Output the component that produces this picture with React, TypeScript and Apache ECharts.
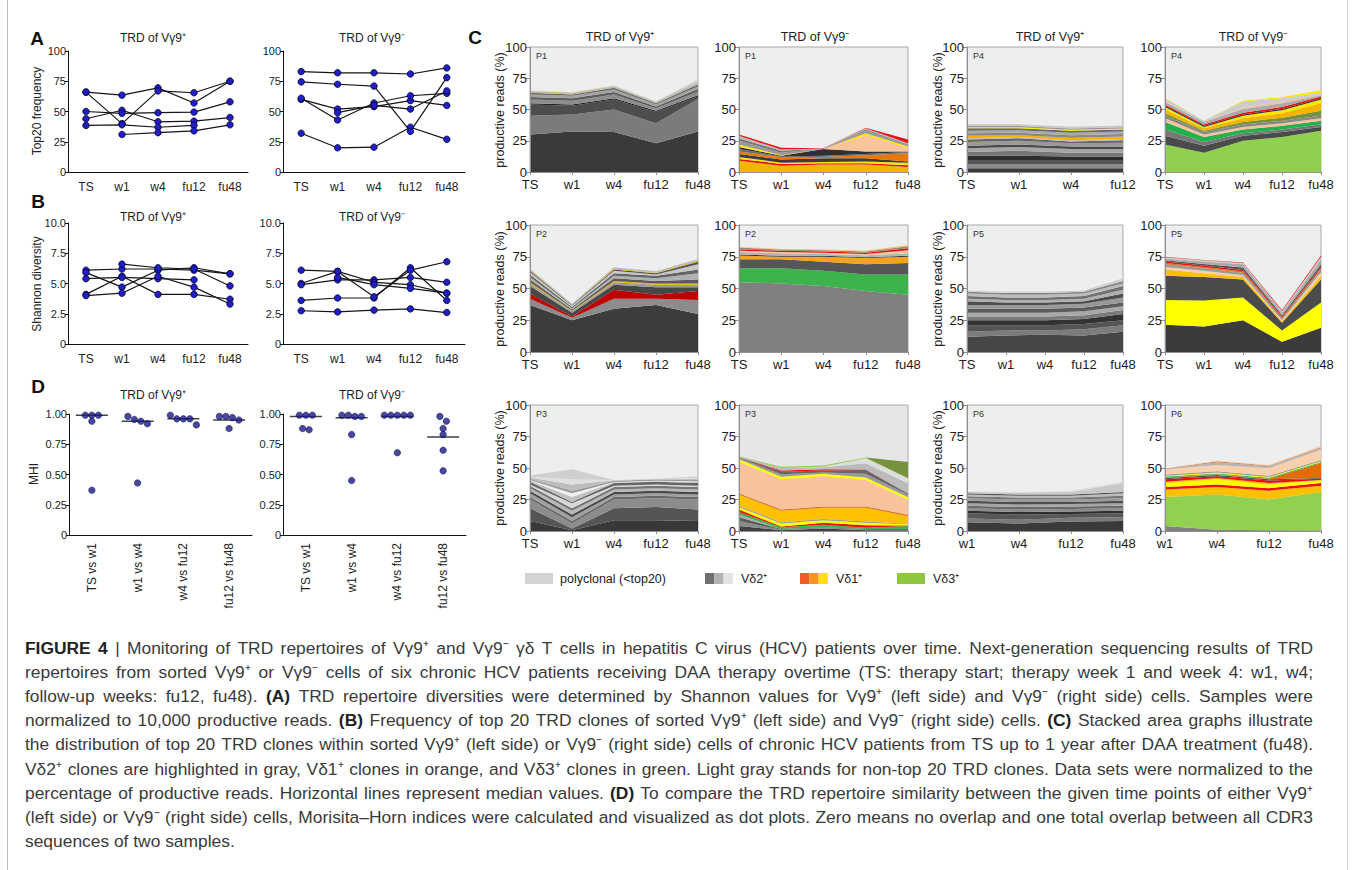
import React, { useEffect, useRef } from "react";
import * as echarts from "echarts";

// ---------------- DATA ----------------
const TIMEPOINTS = ["TS", "w1", "w4", "fu12", "fu48"];
const TIMEPOINTS_P4POS = ["TS", "w1", "w4", "fu12"];
const TIMEPOINTS_P6 = ["w1", "w4", "fu12", "fu48"];
const PATIENTS = ["P1", "P2", "P3", "P4", "P5", "P6"];

// (A) Top20 frequency, one row per patient P1..P6
const TOP20_POS: (number | null)[][] = [
  [66, 63.5, 69.5, 57, 75],
  [66, 40, 67, 65.5, 75],
  [44, 51, 41.5, 42, 45],
  [38.5, 39, 37, 38.5, null],
  [50, 48.5, 49, 49.5, 58],
  [null, 31, 32.5, 34, 39],
];
const TOP20_NEG: (number | null)[][] = [
  [32, 20, 20.5, 37, 27],
  [83, 82, 82, 81, 86],
  [60, 52, 54, 59, 55],
  [61, 43, 57, 63, 65],
  [74.5, 72.5, 71, 33.6, 78],
  [null, 49, 55, 52, 67],
];

// (B) Shannon diversity
const SHANNON_POS: (number | null)[][] = [
  [6.1, 6.2, 6.2, 6.1, 5.8],
  [5.9, 4.7, 6.1, 6.3, 5.8],
  [4.1, 5.6, 4.1, 4.1, 3.7],
  [5.4, 5.5, 5.4, 5.3, null],
  [4.0, 4.2, 5.6, 4.7, 3.3],
  [null, 6.6, 6.3, 6.2, 4.8],
];
const SHANNON_NEG: (number | null)[][] = [
  [2.75, 2.65, 2.8, 2.9, 2.6],
  [3.6, 3.8, 3.8, 6.3, 3.6],
  [5.0, 6.0, 3.9, 6.1, 6.8],
  [4.9, 5.3, 5.3, 5.5, 5.1],
  [6.1, 6.0, 5.1, 4.9, 4.2],
  [null, 5.5, 4.9, 4.6, 4.2],
];

// (D) Morisita-Horn indices
const MHI_CATS = ["TS vs w1", "w1 vs w4", "w4 vs fu12", "fu12 vs fu48"];
const MHI_POS: number[][] = [
  [0.99, 0.99, 0.99, 0.94, 0.37],
  [0.98, 0.955, 0.94, 0.92, 0.43],
  [0.99, 0.96, 0.96, 0.96, 0.91],
  [0.98, 0.97, 0.98, 0.95, 0.88],
];
const MHI_POS_MEDIAN = [0.99, 0.94, 0.96, 0.95];
const MHI_NEG: number[][] = [
  [0.99, 0.99, 0.99, 0.88, 0.87],
  [0.99, 0.98, 0.98, 0.99, 0.83, 0.45],
  [0.99, 0.99, 0.99, 0.99, 0.99, 0.68],
  [0.98, 0.94, 0.88, 0.83, 0.7, 0.53],
];
const MHI_NEG_MEDIAN = [0.98, 0.97, 0.98, 0.81];

// (C) stacked clone layers (% productive reads), bottom to top
const C_P1_POS = [
  [30, 32.5, 32, 23, 32.5],
  [15, 13.5, 18, 16, 26],
  [9, 7, 8, 9, 2],
  [1, 1, 1, 1, 1],
  [3, 3, 3, 2, 3],
  [2, 2, 2, 1.5, 2],
  [2, 2, 2, 1.5, 2],
  [1.5, 1, 1.5, 1, 1.5],
  [1, 1, 1, 1, 2],
  [0.3, 0.4, 0.2, 0.2, 0.2],
  [0.5, 0.5, 0.5, 0.5, 1.5],
  [0, 0, 0, 0, 1],
];
const C_P1_NEG = [
  [9, 5, 6, 6, 4],
  [1.5, 1.5, 1, 1, 1.5],
  [1.5, 1, 1, 1.5, 2],
  [2.5, 2.5, 3, 2.5, 1],
  [2, 2, 1, 2.5, 6.5],
  [2, 0.5, 1, 1, 1],
  [1.5, 0.5, 5.5, 2, 0.5],
  [0.5, 0, 0, 13, 3],
  [1.5, 0.5, 0, 1.5, 1],
  [3, 2, 0.3, 2, 1.5],
  [2, 1.5, 0, 1, 0.5],
  [2, 1, 0, 1, 0.5],
  [1, 1.5, 0.3, 0.5, 3],
];
const C_P4_POS = [
  [3, 3, 3, 3],
  [3, 3, 3, 3],
  [3, 3, 3, 3],
  [4, 4, 3.5, 3.5],
  [3, 4, 3, 3],
  [3, 3, 3, 3],
  [2, 2, 2, 2],
  [3, 3, 2.5, 3],
  [2, 2, 1.5, 2],
  [1, 1, 1, 1],
  [2, 1.5, 2, 2],
  [2, 2, 2, 2],
  [2, 2, 2, 2],
  [2, 1.5, 1.5, 1.5],
  [0.8, 0.8, 0.8, 0.8],
  [1, 1, 1, 1],
  [1.5, 1.5, 1.5, 1.5],
];
const C_P4_NEG = [
  [22, 15.5, 25, 28, 33],
  [7, 5.5, 4, 4, 3],
  [5, 3, 2, 2, 2],
  [6, 4, 3, 3, 3],
  [3, 2, 2, 2, 2],
  [2, 2, 2, 2, 2],
  [2, 1, 2, 2.5, 4],
  [3, 2, 3, 3.5, 6],
  [2, 1, 2, 2.5, 3],
  [1, 1, 1, 1, 1],
  [1, 1, 1.5, 1.5, 1.5],
  [2, 2, 3, 3, 1],
  [1, 0, 1, 1.5, 1],
  [2, 1, 5, 2.5, 1],
  [0.5, 0, 0.5, 1, 2],
];
const C_P2_POS = [
  [37, 25, 34, 37, 30],
  [5, 2, 8, 5, 11],
  [4, 1, 7, 3, 7],
  [6, 3, 4, 6, 3],
  [2, 1, 2, 2, 2],
  [1, 0.5, 1, 1, 1],
  [2, 1, 2, 2, 3],
  [2, 1, 2, 2, 5],
  [2, 1, 2, 2, 3],
  [2, 1, 2, 1, 4],
  [1, 0.5, 1, 1, 2],
  [0.5, 0, 0.8, 0.5, 0.8],
  [1, 1, 1, 1, 1.5],
];
const C_P2_NEG = [
  [55, 54, 52, 48, 45],
  [11, 12, 12, 13, 16],
  [7, 7, 7, 8, 9],
  [3, 2, 4, 5, 5],
  [0.7, 0.7, 0.7, 0.7, 0.7],
  [2, 2, 1.5, 1.5, 2],
  [1, 1, 1, 1, 2.5],
  [1, 1, 1, 1, 1.5],
  [1.5, 1, 1, 1, 1.5],
  [0.5, 0.5, 0.5, 0.5, 1],
];
const C_P5_POS = [
  [12, 13, 13.5, 13, 16],
  [4, 4, 3.5, 5, 5],
  [5, 4, 4, 4, 4],
  [4, 4, 4, 4, 5],
  [3, 3, 3, 3, 3],
  [3, 3, 3, 3, 3],
  [3, 3, 3, 3, 3],
  [3, 3, 3, 3, 4],
  [3, 2, 2, 2, 3],
  [2, 2, 2, 2, 3],
  [2, 2, 2, 2, 3],
  [2, 2, 2, 2, 2],
  [1.5, 1.5, 1.5, 1.5, 2],
  [1, 1, 1, 1, 2],
];
const C_P5_NEG = [
  [21.5, 20, 25, 8, 19],
  [19.5, 20.5, 18, 9, 20],
  [19, 18.5, 14, 6, 18],
  [5, 3, 2, 1, 3],
  [2, 2, 1.5, 1, 3],
  [2, 2, 2, 1.5, 2],
  [1, 1, 1, 0.5, 1],
  [1.2, 1.2, 1, 1, 1],
  [1, 1, 2, 1, 2],
  [1.5, 2, 2.5, 2, 4],
  [1, 1, 1, 1, 2],
  [0.3, 0.3, 0.5, 0.8, 1],
];
const C_P3_POS = [
  [8, 0.5, 8.5, 8.5, 8],
  [10, 1.5, 9.5, 10.5, 9],
  [7, 4, 7, 7, 8],
  [2, 2, 2, 2, 2],
  [3, 3, 2, 2, 2],
  [2, 2, 2, 2, 2],
  [2, 3, 2, 2, 2],
  [2, 2, 2, 2, 2],
  [1, 4, 1, 1, 1],
  [2, 1, 2, 2, 2],
  [1, 4, 0.5, 0.5, 1],
  [0.5, 3, 0.3, 0.3, 0.5],
  [1, 2, 1, 1, 1],
  [1, 5, 0.5, 0.5, 1],
  [0.5, 4, 0.2, 0.2, 0.5],
  [1, 8, 0, 0, 1.5],
];
const C_P3_NEG = [
  [4, 0.5, 2, 0.5, 0.5],
  [4, 0.5, 0.5, 0.5, 0.5],
  [3, 0.5, 0.5, 0.5, 0.5],
  [2, 0, 0, 0, 0],
  [2, 1.5, 2, 1, 2.5],
  [2, 0.5, 1.5, 2, 0.3],
  [2, 2.5, 2, 2, 1],
  [1, 1, 1, 1, 0.5],
  [9, 9, 9, 11, 6],
  [1, 1, 1, 1, 1],
  [25, 24, 24, 21, 12],
  [2, 2, 2, 2, 2],
  [1, 2, 1, 3, 2],
  [0.5, 2, 1.5, 3, 1],
  [0, 1, 1, 0.3, 0],
  [0.5, 2, 1.5, 5, 8],
  [0, 0, 0.5, 4, 4],
  [0.3, 1, 1, 0.5, 0],
  [0, 0, 0, 0, 13],
];
const C_P6_POS = [
  [7, 6, 7.5, 8],
  [3, 3, 3, 3],
  [4, 4, 3, 3],
  [2, 2, 2, 2],
  [2, 2, 2, 2],
  [2, 2, 2, 2],
  [2, 2, 2, 2],
  [2, 2, 1.5, 2],
  [2, 2, 2, 2],
  [1.5, 1.5, 1.5, 2],
  [1.5, 1.5, 1.5, 2],
  [1, 1, 1, 1],
  [1, 1.5, 2, 7],
  [0.5, 0.5, 1, 1],
];
const C_P6_NEG = [
  [4, 1, 0.5, 0.3],
  [23, 28, 24.5, 30.7],
  [6, 6, 7, 5],
  [2, 2, 2, 2],
  [3, 4, 3, 2],
  [1, 1, 1, 0.5],
  [2, 1.5, 2, 1],
  [1, 1, 1, 0.5],
  [0.5, 0.5, 0.5, 12],
  [0.7, 0.7, 0.7, 0.7],
  [0.7, 0.7, 0.7, 0.7],
  [1, 1, 1, 1],
  [4, 5, 6, 8],
  [0.5, 2, 1.5, 1.5],
  [0.3, 1, 0.5, 0.7],
  [0, 0.5, 0.5, 1],
];

// layer colours (styles kept apart from values)
const COL_P1_POS = ["#3a3a3a", "#7b7b7b", "#4d4d4d", "#222222", "#8e8e8e", "#5c5c5c", "#a3a3a3", "#6b6b6b", "#b8b8b8", "#e8a200", "#cdcdcd", "#dedede"];
const COL_P1_NEG = ["#f5b400", "#e8140a", "#ffe600", "#3c3c3c", "#e8780a", "#6e6e6e", "#303030", "#f8c49c", "#ffe600", "#9a9a9a", "#777777", "#bbbbbb", "#e81010"];
const COL_P4_POS = ["#3a3a3a", "#8a8a8a", "#555555", "#2e2e2e", "#777777", "#a5a5a5", "#4a4a4a", "#999999", "#666666", "#bbbbbb", "#f5b000", "#888888", "#aaaaaa", "#6a6a6a", "#ffee00", "#999999", "#c8c8c8"];
const COL_P4_NEG = ["#8fd14f", "#4a4a4a", "#777777", "#22b14c", "#f8c39c", "#888888", "#76923c", "#f5b400", "#ffe600", "#333333", "#e81010", "#aaaaaa", "#f0c0a0", "#cccccc", "#ffe600"];
const COL_P2_POS = ["#3c3c3c", "#8c8c8c", "#c00000", "#474747", "#9a9a9a", "#e8b000", "#5a5a5a", "#b0b0b0", "#666666", "#c8c8c8", "#555555", "#e8b000", "#bbbbbb"];
const COL_P2_NEG = ["#808080", "#3cb44b", "#565656", "#f7a21b", "#333333", "#b4b4b4", "#f8c7a0", "#e81010", "#9a8a7a", "#f0c070"];
const COL_P5_POS = ["#464646", "#7c7c7c", "#555555", "#333333", "#7a7a7a", "#a8a8a8", "#5c5c5c", "#999999", "#4e4e4e", "#b0b0b0", "#707070", "#bdbdbd", "#8a8a8a", "#cfcfcf"];
const COL_P5_NEG = ["#3b3b3b", "#ffff00", "#4b4b4b", "#ffc000", "#f8cfae", "#9a9a9a", "#e07020", "#e81010", "#555555", "#aaaaaa", "#cccccc", "#e81010"];
const COL_P3_POS = ["#383838", "#555555", "#8c8c8c", "#6a6a6a", "#a0a0a0", "#4a4a4a", "#b8b8b8", "#777777", "#d8d8d8", "#666666", "#c0c0c0", "#f0f0f0", "#9a9a9a", "#bdbdbd", "#e0e0e0", "#cfcfcf"];
const COL_P3_NEG = ["#404040", "#8a8a8a", "#5a5a5a", "#aaaaaa", "#3cb44b", "#e81010", "#ffff00", "#9a9a9a", "#ffc000", "#e07020", "#f8c39c", "#ffff00", "#999999", "#666666", "#e81010", "#bbbbbb", "#dddddd", "#92d050", "#76923c"];
const COL_P6_POS = ["#3a3a3a", "#7a7a7a", "#585858", "#2e2e2e", "#8c8c8c", "#6a6a6a", "#a5a5a5", "#4e4e4e", "#9a9a9a", "#777777", "#bbbbbb", "#555555", "#c8c8c8", "#dddddd"];
const COL_P6_NEG = ["#7f7f7f", "#92d050", "#ffc000", "#ee1111", "#ffff00", "#ffc000", "#e81010", "#555555", "#e36c09", "#3cb44b", "#ffff00", "#999999", "#f9cfae", "#b5b5b5", "#e08a4a", "#f4d0c0"];

const LEGEND_LABELS = ["polyclonal (<top20)", "Vδ2⁺", "Vδ1⁺", "Vδ3⁺"];
const TITLE_POS = "TRD of Vγ9⁺";
const TITLE_NEG = "TRD of Vγ9⁻";

const CAPTION_LINES = [
  "{b|FIGURE 4} | Monitoring of TRD repertoires of Vγ9⁺ and Vγ9⁻ γδ T cells in hepatitis C virus (HCV) patients over time. Next-generation sequencing results of TRD",
  "repertoires from sorted Vγ9⁺ or Vγ9⁻ cells of six chronic HCV patients receiving DAA therapy overtime (TS: therapy start; therapy week 1 and week 4: w1, w4;",
  "follow-up weeks: fu12, fu48). {b|(A)} TRD repertoire diversities were determined by Shannon values for Vγ9⁺ (left side) and Vγ9⁻ (right side) cells. Samples were",
  "normalized to 10,000 productive reads. {b|(B)} Frequency of top 20 TRD clones of sorted Vγ9⁺ (left side) and Vγ9⁻ (right side) cells. {b|(C)} Stacked area graphs illustrate",
  "the distribution of top 20 TRD clones within sorted Vγ9⁺ (left side) or Vγ9⁻ (right side) cells of chronic HCV patients from TS up to 1 year after DAA treatment (fu48).",
  "Vδ2⁺ clones are highlighted in gray, Vδ1⁺ clones in orange, and Vδ3⁺ clones in green. Light gray stands for non-top 20 TRD clones. Data sets were normalized to the",
  "percentage of productive reads. Horizontal lines represent median values. {b|(D)} To compare the TRD repertoire similarity between the given time points of either Vγ9⁺",
  "(left side) or Vγ9⁻ (right side) cells, Morisita–Horn indices were calculated and visualized as dot plots. Zero means no overlap and one total overlap between all CDR3",
  "sequences of two samples.",
];

// ---------------- BUILD ----------------
const FONT = '"Liberation Sans", Arial, Helvetica, sans-serif';
const CAPTION_SIZE = 17.4;

type Rect = { left: number; top: number; width: number; height: number };

function swarmOffsets(vals: number[], thr: number, step: number): number[] {
  const idx = vals.map((_, i) => i).sort((a, b) => vals[b] - vals[a]);
  const offs = new Array(vals.length).fill(0);
  let start = 0;
  for (let k = 1; k <= idx.length; k++) {
    if (k === idx.length || vals[idx[k - 1]] - vals[idx[k]] >= thr) {
      const n = k - start;
      for (let j = 0; j < n; j++) offs[idx[start + j]] = (j - (n - 1) / 2) * step;
      start = k;
    }
  }
  return offs;
}

let measureCtx: CanvasRenderingContext2D | null = null;
function measureWord(word: string, bold: boolean, size: number): number {
  if (!measureCtx) measureCtx = document.createElement("canvas").getContext("2d");
  if (!measureCtx) return word.length * size * 0.5;
  measureCtx.font = `${bold ? "bold " : ""}${size}px ${FONT}`;
  return measureCtx.measureText(word).width;
}

function splitWords(line: string): { w: string; bold: boolean }[] {
  const out: { w: string; bold: boolean }[] = [];
  const re = /\{b\|([^}]*)\}/g;
  let last = 0;
  let m: RegExpExecArray | null;
  const push = (s: string, bold: boolean) =>
    s.split(" ").filter((x) => x.length > 0).forEach((w) => out.push({ w, bold }));
  while ((m = re.exec(line))) {
    push(line.slice(last, m.index), false);
    push(m[1], true);
    last = m.index + m[0].length;
  }
  push(line.slice(last), false);
  return out;
}

function buildOption() {
  const grid: any[] = [];
  const xAxis: any[] = [];
  const yAxis: any[] = [];
  const series: any[] = [];
  const gfx: any[] = [];

  const text = (x: number, y: number, t: string, size: number, extra: any = {}, elExtra: any = {}) =>
    gfx.push({
      type: "text",
      x,
      y,
      silent: true,
      ...elExtra,
      style: {
        text: t,
        fontSize: size,
        fontFamily: FONT,
        fill: "#222",
        textAlign: "center",
        textVerticalAlign: "middle",
        ...extra,
      },
    });

  const blackAxis = { lineStyle: { color: "#111", width: 1 } };

  const addLinePanel = (r: Rect, rows: (number | null)[][], max: number, fmt: (v: number) => string) => {
    const gi = grid.length;
    grid.push({ ...r });
    xAxis.push({
      gridIndex: gi,
      type: "category",
      data: TIMEPOINTS,
      boundaryGap: true,
      axisLine: blackAxis,
      axisTick: { show: false },
      axisLabel: { fontSize: 12, color: "#222", fontFamily: FONT, margin: 9 },
    });
    yAxis.push({
      gridIndex: gi,
      type: "value",
      min: 0,
      max,
      interval: max / 4,
      axisLine: { show: true, ...blackAxis },
      axisTick: { show: true, length: 3, lineStyle: { color: "#111" } },
      splitLine: { show: false },
      axisLabel: { fontSize: 11, color: "#222", fontFamily: FONT, margin: 2, formatter: fmt },
    });
    rows.forEach((d, k) =>
      series.push({
        name: PATIENTS[k],
        type: "line",
        xAxisIndex: gi,
        yAxisIndex: gi,
        data: d,
        symbol: "circle",
        symbolSize: 6.5,
        lineStyle: { color: "#151515", width: 1.2 },
        itemStyle: { color: "#1f1fc4", borderColor: "#000033", borderWidth: 0.8 },
        silent: true,
      })
    );
  };

  const addDotPanel = (r: Rect, groups: number[][], medians: number[]) => {
    const gi = grid.length;
    grid.push({ ...r });
    xAxis.push({
      gridIndex: gi,
      type: "category",
      data: MHI_CATS,
      boundaryGap: true,
      axisLine: blackAxis,
      axisTick: { show: false },
      axisLabel: { fontSize: 12, color: "#222", fontFamily: FONT, rotate: 90, margin: 8, interval: 0 },
    });
    yAxis.push({
      gridIndex: gi,
      type: "value",
      min: 0,
      max: 1,
      interval: 0.25,
      axisLine: { show: true, ...blackAxis },
      axisTick: { show: true, length: 3, lineStyle: { color: "#111" } },
      splitLine: { show: false },
      axisLabel: { fontSize: 11, color: "#222", fontFamily: FONT, margin: 2, formatter: (v: number) => (v === 0 ? "0" : v.toFixed(2)) },
    });
    const pts: any[] = [];
    groups.forEach((vals, ci) => {
      const offs = swarmOffsets(vals, 0.05, 6.5);
      vals.forEach((v, k) => pts.push({ value: [ci, v], symbolOffset: [offs[k], 0] }));
    });
    series.push({
      type: "scatter",
      xAxisIndex: gi,
      yAxisIndex: gi,
      data: medians.map((m, ci) => [ci, m]),
      symbol: "rect",
      symbolSize: [32, 1.5],
      itemStyle: { color: "#111" },
      silent: true,
      z: 2,
    });
    series.push({
      type: "scatter",
      xAxisIndex: gi,
      yAxisIndex: gi,
      data: pts,
      symbol: "circle",
      symbolSize: 6.5,
      itemStyle: { color: "#1a1a8c", borderColor: "#000033", borderWidth: 0.6 },
      silent: true,
      z: 3,
    });
  };

  const grayAxis = { lineStyle: { color: "#8f8f8f", width: 1 } };
  const addStackPanel = (r: Rect, cats: string[], layers: number[][], colors: string[], tag: string, bg: string) => {
    const gi = grid.length;
    grid.push({ ...r, show: true, backgroundColor: bg, borderColor: "#a8a8a8", borderWidth: 1 });
    xAxis.push({
      gridIndex: gi,
      type: "category",
      data: cats,
      boundaryGap: false,
      axisLine: grayAxis,
      axisTick: { show: true, length: 3, lineStyle: { color: "#8f8f8f" } },
      axisLabel: { fontSize: 13, color: "#1a1a1a", fontFamily: FONT, margin: 6 },
      z: 5,
    });
    yAxis.push({
      gridIndex: gi,
      type: "value",
      min: 0,
      max: 100,
      interval: 25,
      axisLine: { show: true, ...grayAxis },
      axisTick: { show: true, length: 4, lineStyle: { color: "#8f8f8f" } },
      splitLine: { show: false },
      axisLabel: { fontSize: 13, color: "#1a1a1a", fontFamily: FONT, margin: 3, verticalAlign: "middle" },
      z: 5,
    });
    layers.forEach((vals, k) =>
      series.push({
        type: "line",
        xAxisIndex: gi,
        yAxisIndex: gi,
        stack: "stack" + gi,
        data: vals,
        symbol: "none",
        showSymbol: false,
        lineStyle: { width: 0 },
        itemStyle: { color: colors[k] },
        areaStyle: { color: colors[k], opacity: 1 },
        silent: true,
      })
    );
    text(r.left + 6, r.top + 9, tag, 9, { textAlign: "left", fill: "#333" });
  };

  // ----- layout -----
  const colA = [
    { left: 68, width: 180 },
    { left: 283, width: 182 },
  ];
  addLinePanel({ ...colA[0], top: 51, height: 121 }, TOP20_POS, 100, (v) => String(v));
  addLinePanel({ ...colA[1], top: 51, height: 121 }, TOP20_NEG, 100, (v) => String(v));
  addLinePanel({ ...colA[0], top: 223, height: 121 }, SHANNON_POS, 10, (v) => (v === 0 ? "0" : v.toFixed(1)));
  addLinePanel({ ...colA[1], top: 223, height: 121 }, SHANNON_NEG, 10, (v) => (v === 0 ? "0" : v.toFixed(1)));
  addDotPanel({ left: 69, width: 183, top: 414, height: 121 }, MHI_POS, MHI_POS_MEDIAN);
  addDotPanel({ left: 283, width: 183, top: 414, height: 121 }, MHI_NEG, MHI_NEG_MEDIAN);

  const cCols = [
    { left: 530, width: 168 },
    { left: 739, width: 169 },
    { left: 967, width: 156 },
    { left: 1165, width: 156 },
  ];
  const cRows = [
    { top: 47, height: 125 },
    { top: 225, height: 127 },
    { top: 405, height: 126 },
  ];
  const BG = "#edefee";
  addStackPanel({ ...cCols[0], ...cRows[0] }, TIMEPOINTS, C_P1_POS, COL_P1_POS, "P1", BG);
  addStackPanel({ ...cCols[1], ...cRows[0] }, TIMEPOINTS, C_P1_NEG, COL_P1_NEG, "P1", BG);
  addStackPanel({ ...cCols[2], ...cRows[0] }, TIMEPOINTS_P4POS, C_P4_POS, COL_P4_POS, "P4", BG);
  addStackPanel({ ...cCols[3], ...cRows[0] }, TIMEPOINTS, C_P4_NEG, COL_P4_NEG, "P4", BG);
  addStackPanel({ ...cCols[0], ...cRows[1] }, TIMEPOINTS, C_P2_POS, COL_P2_POS, "P2", BG);
  addStackPanel({ ...cCols[1], ...cRows[1] }, TIMEPOINTS, C_P2_NEG, COL_P2_NEG, "P2", BG);
  addStackPanel({ ...cCols[2], ...cRows[1] }, TIMEPOINTS, C_P5_POS, COL_P5_POS, "P5", BG);
  addStackPanel({ ...cCols[3], ...cRows[1] }, TIMEPOINTS, C_P5_NEG, COL_P5_NEG, "P5", BG);
  addStackPanel({ ...cCols[0], ...cRows[2] }, TIMEPOINTS, C_P3_POS, COL_P3_POS, "P3", BG);
  addStackPanel({ ...cCols[1], ...cRows[2] }, TIMEPOINTS, C_P3_NEG, COL_P3_NEG, "P3", "#e6e6e6");
  addStackPanel({ ...cCols[2], ...cRows[2] }, TIMEPOINTS_P6, C_P6_POS, COL_P6_POS, "P6", BG);
  addStackPanel({ ...cCols[3], ...cRows[2] }, TIMEPOINTS_P6, C_P6_NEG, COL_P6_NEG, "P6", BG);

  // titles
  [38, 217, 395].forEach((y) => {
    text(153, y, TITLE_POS, 12);
    text(372, y, TITLE_NEG, 12);
  });
  text(620, 37, TITLE_POS, 12.5);
  text(815, 37, TITLE_NEG, 12.5);
  text(1050, 37, TITLE_POS, 12.5);
  text(1253, 37, TITLE_NEG, 12.5);

  // panel letters
  const bold = { fontWeight: "bold", fill: "#111" };
  text(37, 38, "A", 19, bold);
  text(38, 201, "B", 19, bold);
  text(475, 37, "C", 19, bold);
  text(38, 386, "D", 19, bold);

  // axis names
  const rot = { rotation: Math.PI / 2 };
  text(37, 111, "Top20 frequency", 12, {}, rot);
  text(37, 284, "Shannon diversity", 12, {}, rot);
  text(34, 474, "MHI", 12, {}, rot);
  [110, 289, 468].forEach((y) => {
    text(500, y, "productive reads (%)", 12.5, {}, rot);
    text(938, y, "productive reads (%)", 12.5, {}, rot);
  });

  // legend
  const ly = 573;
  gfx.push({ type: "rect", shape: { x: 525, y: ly, width: 28, height: 11 }, style: { fill: "#d3d3d3" }, silent: true });
  ["#6f6f6f", "#b2b2b2", "#e3e3e3"].forEach((c, i) =>
    gfx.push({ type: "rect", shape: { x: 705 + i * 9.3, y: ly, width: 9.3, height: 11 }, style: { fill: c }, silent: true })
  );
  ["#f15a29", "#f7941d", "#ffde17"].forEach((c, i) =>
    gfx.push({ type: "rect", shape: { x: 800 + i * 9.3, y: ly, width: 9.3, height: 11 }, style: { fill: c }, silent: true })
  );
  gfx.push({ type: "rect", shape: { x: 897, y: ly, width: 28, height: 11 }, style: { fill: "#8dc63f" }, silent: true });
  const lt = { textAlign: "left", fill: "#222" };
  text(560, ly + 5.5, LEGEND_LABELS[0], 12.5, lt);
  text(741, ly + 5.5, LEGEND_LABELS[1], 12.5, lt);
  text(836, ly + 5.5, LEGEND_LABELS[2], 12.5, lt);
  text(933, ly + 5.5, LEGEND_LABELS[3], 12.5, lt);

  // caption, justified between x0 and x1 (last line left-aligned)
  const capX0 = 25;
  const capX1 = 1313;
  CAPTION_LINES.forEach((line, i) => {
    const words = splitWords(line);
    const widths = words.map((w) => measureWord(w.w, w.bold, CAPTION_SIZE));
    const total = widths.reduce((a, b) => a + b, 0);
    const isLast = i === CAPTION_LINES.length - 1;
    const spaceW = measureWord(" ", false, CAPTION_SIZE);
    const gap = isLast || words.length < 2 ? spaceW : (capX1 - capX0 - total) / (words.length - 1);
    let x = capX0;
    const y = 648 + i * 24.1;
    words.forEach((w, k) => {
      gfx.push({
        type: "text",
        x,
        y,
        silent: true,
        style: {
          text: w.w,
          fontSize: CAPTION_SIZE,
          fontFamily: FONT,
          fontWeight: w.bold ? "bold" : "normal",
          fill: w.bold ? "#222" : "#3a3a3a",
          textAlign: "left",
          textVerticalAlign: "middle",
        },
      });
      x += widths[k] + gap;
    });
  });

  // frame lines
  gfx.push({ type: "line", shape: { x1: 7.5, y1: 0, x2: 7.5, y2: 870 }, style: { stroke: "#bdbdbd", lineWidth: 1 }, silent: true });
  gfx.push({ type: "line", shape: { x1: 1347.5, y1: 0, x2: 1347.5, y2: 870 }, style: { stroke: "#d0d0d0", lineWidth: 1 }, silent: true });

  return {
    animation: false,
    backgroundColor: "#ffffff",
    textStyle: { fontFamily: FONT },
    grid,
    xAxis,
    yAxis,
    series,
    graphic: gfx,
  };
}

export default function App() {
  const ref = useRef<HTMLDivElement>(null);
  useEffect(() => {
    if (!ref.current) return;
    const chart = echarts.init(ref.current, null, { renderer: "svg" });
    chart.setOption(buildOption() as any);
    return () => chart.dispose();
  }, []);
  return (
    <div
      ref={ref}
      style={{ position: "fixed", left: 0, top: 0, width: 1354, height: 870, background: "#fff" }}
    />
  );
}
